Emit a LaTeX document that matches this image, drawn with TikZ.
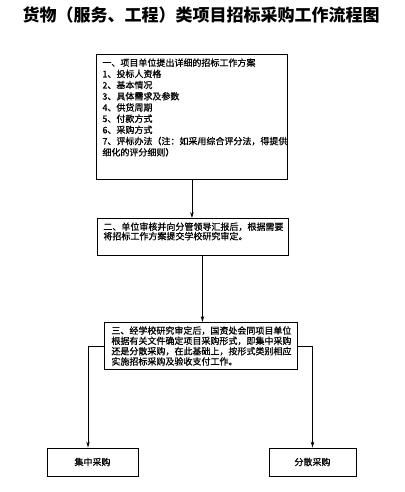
\documentclass[tikz,border=0pt]{standalone}
\usepackage{fontspec}
\newfontfamily\cjk[FakeBold=0.7]{Noto Sans CJK SC}
\newfontfamily\cjktitle{Noto Sans CJK SC}
\usepackage{tikz}
\usetikzlibrary{arrows.meta,positioning}

\begin{document}
\begin{tikzpicture}[
  x=1pt,y=-1pt,
  box/.style={draw,line width=0.9pt,anchor=north west,align=left,inner xsep=6pt,inner ysep=3pt,font=\cjk\fontsize{9}{11.2}\selectfont},
  leaf/.style={draw,line width=0.9pt,minimum height=28pt,font=\cjk\fontsize{9}{11}\selectfont},
  arr/.style={-{Stealth[length=6pt,width=3.5pt]},line width=0.8pt}
]
\useasboundingbox (0,0) rectangle (404,492);
\node[font=\cjktitle\bfseries\fontsize{17}{20}\selectfont] (title) at (201,15) {货物（服务、工程）类项目招标采购工作流程图};
% step one: the plan and its items
\node[box,text width=179pt,minimum height=125pt] (plan) at (96,54) {\parbox[t][117pt][t]{179pt}{一、项目单位提出详细的招标工作方案\\
1、投标人资格\\
2、基本情况\\
3、具体需求及参数\\
4、供货周期\\
5、付款方式\\
6、采购方式\\
7、评标办法（注：如采用综合评分法，得提供\\
细化的评分细则）}};
\node[box,text width=179pt,minimum height=37pt,font=\cjk\fontsize{9}{9.5}\selectfont] (report) at (97,218) {\parbox[t][29pt][t]{179pt}{二、单位审核并向分管领导汇报后，根据需要\\
将招标工作方案提交学校研究审定。}};
\node[box,text width=179pt,minimum height=47pt,inner xsep=7pt,font=\cjk\fontsize{9}{10.3}\selectfont] (decide) at (104,322) {三、经学校研究审定后，国资处会同项目单位\\
根据有关文件确定项目采购形式，即集中采购\\
还是分散采购，在此基础上，按形式类别相应\\
实施招标采购及验收支付工作。};
\node[leaf,minimum width=91pt] (central) at (92.5,462) {集中采购};
\node[leaf,minimum width=87pt] (scatter) at (312.5,462) {分散采购};
\draw[arr] (plan.south)--(plan.south |- report.north);
\draw[arr] ([xshift=9.5pt]report.south)--([xshift=9.5pt]report.south |- decide.north);
\draw[arr] (decide.west)-|([xshift=-4.5pt]central.north);
\draw[arr] (decide.east)-|(scatter.north);
\end{tikzpicture}
\end{document}
